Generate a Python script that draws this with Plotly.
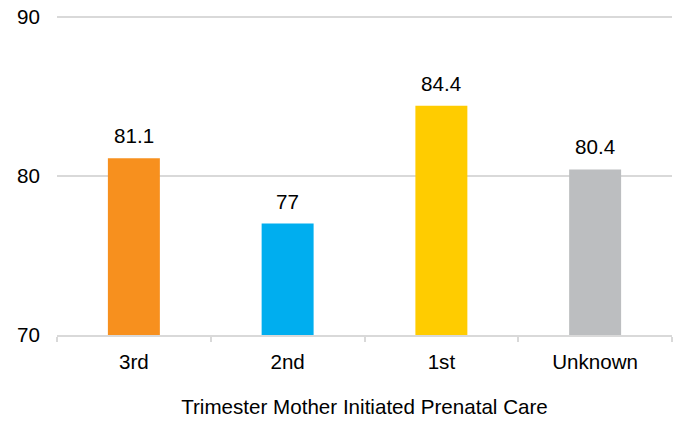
import plotly.graph_objects as go

categories = ["3rd", "2nd", "1st", "Unknown"]
values = [81.1, 77, 84.4, 80.4]
labels = ["81.1", "77", "84.4", "80.4"]
colors = ["#F7901E", "#00AEEF", "#FFCC00", "#BCBEC0"]
y_ticks = [70, 80, 90]

FONT = "Liberation Sans, Arial, sans-serif"
FS = 20.6

fig = go.Figure(go.Bar(x=categories, y=values, marker_color=colors,
                       marker_line_width=0, hoverinfo="skip"))

for c, v, t in zip(categories, values, labels):
    fig.add_annotation(x=c, y=v, text=t, showarrow=False, yanchor="bottom",
                       yshift=9, font=dict(family=FONT, size=FS, color="#000"))

fig.update_layout(
    width=693, height=423,
    margin=dict(l=57, r=21, t=15, b=88),
    plot_bgcolor="white", paper_bgcolor="white",
    bargap=0.662, showlegend=False,
    font=dict(family=FONT, size=FS, color="#000"),
)
fig.update_xaxes(
    automargin=False,
    showline=True, linecolor="#D9D9D9", linewidth=1.5,
    ticks="outside", tickson="boundaries", ticklen=5, tickcolor="#D9D9D9", tickwidth=1.5,
    ticklabelstandoff=8,
    showgrid=False,
    title=dict(text="Trimester Mother Initiated Prenatal Care", standoff=27,
               font=dict(family=FONT, size=FS, color="#000")),
    tickfont=dict(family=FONT, size=FS, color="#000"),
)
fig.update_yaxes(
    automargin=False,
    range=[70, 90.1], tickvals=y_ticks, showgrid=True, gridcolor="#D9D9D9", gridwidth=1.5,
    zeroline=False, showline=False, ticks="", ticklabelstandoff=16,
    tickfont=dict(family=FONT, size=FS, color="#000"),
)

fig.write_html("out.html", config={"displayModeBar": False},
               post_script="document.body.style.margin='0';document.body.style.overflow='hidden';")
